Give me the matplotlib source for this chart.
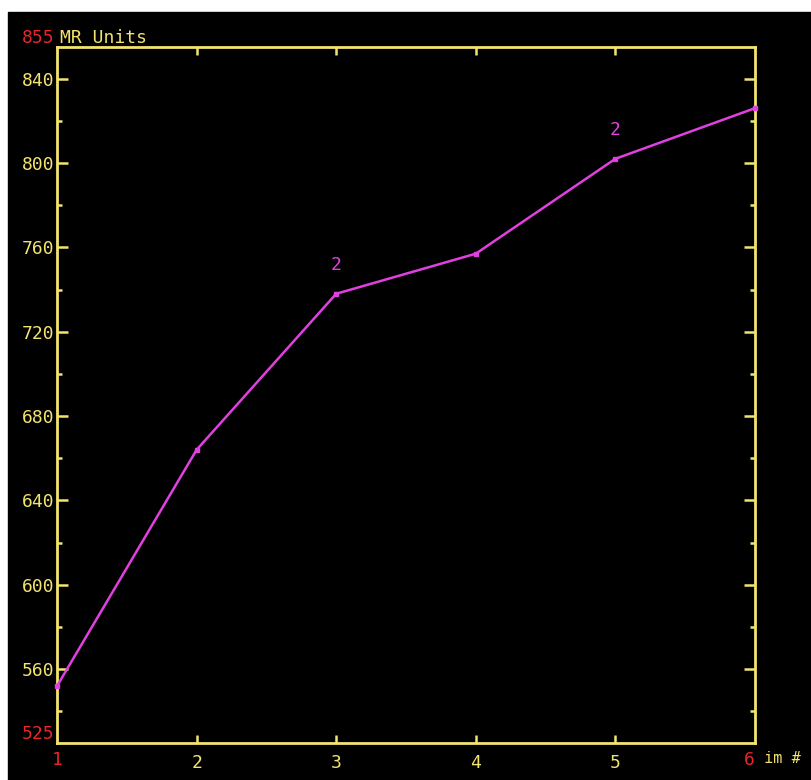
import matplotlib
matplotlib.use("Agg")
import matplotlib.pyplot as plt
from matplotlib.patches import Rectangle
from matplotlib.transforms import blended_transform_factory

# data
im_num = [1, 2, 3, 4, 5, 6]
mr_units = [552, 664, 738, 757, 802, 826]
y_major = [560, 600, 640, 680, 720, 760, 800, 840]
y_minor = [540, 580, 620, 660, 700, 740, 780, 820]
x_ticks = [2, 3, 4, 5]
count_marks = {3: "2", 5: "2"}  # small "2" annotations above points
y_min, y_max = 525, 855

YEL = "#f2e46e"
RED = "#e8262a"
MAG = "#e040e0"
FONT = "DejaVu Sans Mono"

fig = plt.figure(figsize=(8.11, 7.8), dpi=100, facecolor="white")
# black screen area (white margin top / left in the reference)
fig.patches.append(Rectangle((8 / 811, 0), 1, 1 - 12 / 780,
                             transform=fig.transFigure, color="black", zorder=-10))

ax = fig.add_axes([57 / 811, 37 / 780, (755 - 57) / 811, (743 - 47) / 780])
ax.set_facecolor("black")
ax.patch.set_alpha(0)

ax.plot(im_num, mr_units, color=MAG, lw=1.8, marker="s", ms=3, zorder=5, clip_on=False)
for xi, lab in count_marks.items():
    yi = mr_units[im_num.index(xi)]
    ax.annotate(lab, (xi, yi), xytext=(0, 14), textcoords="offset points",
                ha="center", va="bottom", color=MAG, fontsize=13, family=FONT)

ax.set_xlim(1, 6)
ax.set_ylim(y_min, y_max)

for s in ax.spines.values():
    s.set_color(YEL)
    s.set_linewidth(2)

ax.set_yticks(y_major)
ax.set_yticklabels([str(v) for v in y_major])
ax.set_yticks(y_minor, minor=True)
ax.set_xticks(x_ticks)
ax.set_xticklabels([str(v) for v in x_ticks])

ax.tick_params(axis="both", which="both", direction="in", colors=YEL,
               labelcolor=YEL, width=1.8, labelsize=13)
ax.tick_params(axis="y", which="major", length=8, right=True, pad=2)
ax.tick_params(axis="y", which="minor", length=3.5, right=True)
ax.tick_params(axis="x", which="major", length=6, top=True, pad=8)
for t in ax.get_xticklabels() + ax.get_yticklabels():
    t.set_family(FONT)

# end labels
ty = blended_transform_factory(ax.transAxes, ax.transData)
tx = blended_transform_factory(ax.transData, ax.transAxes)
ax.text(-0.004, y_max, str(y_max), transform=ty, ha="right", va="bottom",
        color=RED, fontsize=13, family=FONT)
ax.text(0.004, y_max, "MR Units", transform=ty, ha="left", va="bottom",
        color=YEL, fontsize=13, family=FONT)
ax.text(-0.004, y_min, str(y_min), transform=ty, ha="right", va="bottom",
        color=RED, fontsize=13, family=FONT)
ax.text(im_num[0], -0.012, str(im_num[0]), transform=tx, ha="center", va="top",
        color=RED, fontsize=13, family=FONT)
ax.text(im_num[-1], -0.012, str(im_num[-1]), transform=tx, ha="right", va="top",
        color=RED, fontsize=13, family=FONT)
ax.text(im_num[-1], -0.012, " im #", transform=tx, ha="left", va="top",
        color=YEL, fontsize=11, family=FONT)

fig.savefig("out.png", dpi=100, facecolor=fig.get_facecolor())
